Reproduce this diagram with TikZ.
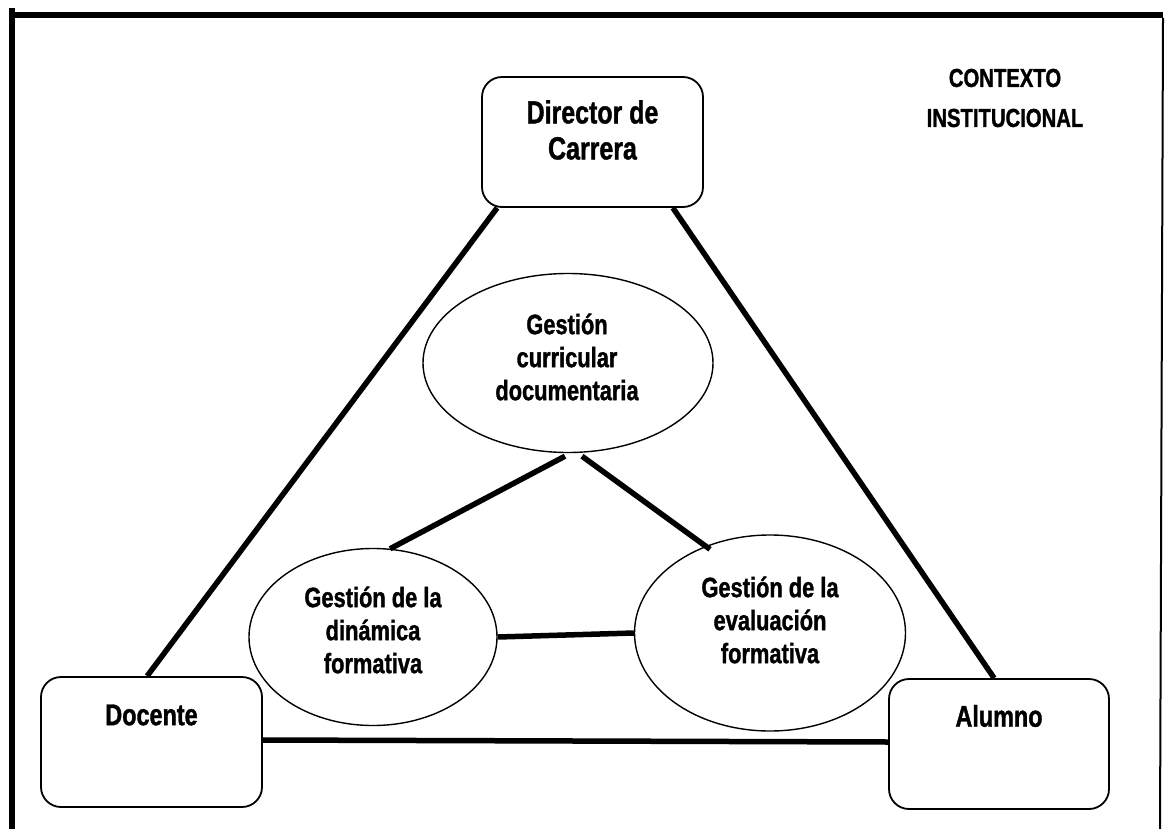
\documentclass[tikz,border=0pt]{standalone}
\usepackage{fontspec}
\setmainfont{Liberation Sans}[FakeStretch=0.78, BoldFeatures={FakeBold=1.2}]
\usetikzlibrary{shapes.geometric}
\begin{document}
\begin{tikzpicture}[x=1pt,y=-1pt,
  frameline/.style={line width=6.5pt},
  box/.style={draw, line width=1.8pt, rounded corners=20pt, fill=white},
  oval/.style={draw, ellipse, line width=1.4pt, fill=white, inner sep=0pt},
  link/.style={line width=5.5pt},
  lbl/.style={font=\bfseries\fontsize{28}{33}\selectfont, align=center, inner sep=0pt},
  blbl/.style={font=\bfseries\fontsize{30}{35}\selectfont, align=center, inner sep=0pt},
  dlbl/.style={font=\bfseries\fontsize{32}{36}\selectfont, align=center, inner sep=0pt},
  clbl/.style={font=\bfseries\fontsize{26}{40}\selectfont, align=center, inner sep=0pt}]
\useasboundingbox (0,0) rectangle (1166,829);
\fill[white] (0,0) rectangle (1166,829);
% frame
\coordinate (ftl) at (12,8);
\coordinate (fbl) at (12,829);
\coordinate (ftr) at (1163,15);
\coordinate (ftl2) at (15,15);
\coordinate (fbr) at (1160,829);
\draw[frameline] (ftl) -- (fbl);
\draw[frameline] (ftl2) -- (ftr);
\draw[line width=2pt] ([yshift=-3pt]ftr) -- (fbr);
% boxes
\node[box, minimum width=221pt, minimum height=130pt] (dir) at (592.5,142) {};
\node[box, minimum width=221pt, minimum height=130pt] (doc) at (151.5,742) {};
\node[box, minimum width=220pt, minimum height=130pt] (alu) at (999,744) {};
\node[dlbl] (dirt) at (592.5,130) {Director de\\Carrera};
\node[blbl] (doct) at (151.5,715) {Docente};
\node[blbl] (alut) at (999,716) {Alumno};
\node[clbl] (ctx) at (1005,98) {CONTEXTO\\INSTITUCIONAL};
% ellipses
\node[oval, minimum width=290pt, minimum height=179pt] (gc) at (568,363) {};
\node[oval, minimum width=248pt, minimum height=177pt] (gd) at (373,637) {};
\node[oval, minimum width=271pt, minimum height=196pt] (ge) at (770,633) {};
\node[lbl] (gct) at (567,357) {Gesti\'on\\curricular\\documentaria};
\node[lbl] (gdt) at (373,630) {Gesti\'on de la\\din\'amica\\formativa};
\node[lbl] (get) at (770,620) {Gesti\'on de la\\evaluaci\'on\\formativa};
% connectors
\draw[link] ([xshift=16pt]dir.south west) -- ([xshift=107pt]doc.north west);
\draw[link] ([xshift=-31pt]dir.south east) -- ([xshift=106pt]alu.north west);
\draw[link] ([xshift=-3pt,yshift=-3pt]gc.south) -- ([xshift=17pt,yshift=-1pt]gd.north);
\draw[link] ([xshift=14pt,yshift=-3pt]gc.south) -- ([xshift=-60pt,yshift=-15pt]ge.north);
\draw[link] (gd.east) -- (ge.west);
\draw[link] ([yshift=2pt]doc.east) -- ([yshift=2pt]alu.west);
\end{tikzpicture}
\end{document}
